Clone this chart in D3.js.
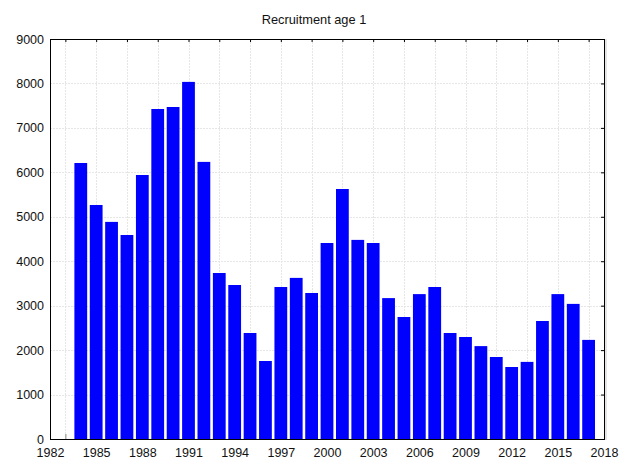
<!DOCTYPE html>
<html>
<head>
<meta charset="utf-8">
<script src="https://cdn.jsdelivr.net/npm/d3@7"></script>
<style>
	body{margin:0;background:#fff;}
	text{font-family:"Liberation Sans",Arial,sans-serif;}
</style>
</head>
<body>
<div id="chart"></div>
<script>
// data
var years = [1984,1985,1986,1987,1988,1989,1990,1991,1992,1993,1994,1995,1996,1997,1998,1999,2000,
	2001,2002,2003,2004,2005,2006,2007,2008,2009,2010,2011,2012,2013,2014,2015,2016,2017];
var recruits = [6210,5265,4885,4590,5940,7425,7470,8035,6235,3735,3465,2385,1755,3420,3625,3285,4410,
	5625,4480,4410,3170,2745,3260,3420,2385,2295,2090,1845,1620,1735,2655,3260,3040,2230];
var xTickLabels = [1982,1985,1988,1991,1994,1997,2000,2003,2006,2009,2012,2015,2018];
var xGridYears = d3.range(1983,2018,2);
var yTicks = d3.range(0,9001,1000);
var title = "Recruitment age 1";

var W = 621, H = 459;
var m = {left:50, right:17, top:39, bottom:20};

var svg = d3.select("#chart").append("svg")
	.attr("width",W).attr("height",H);

var x = d3.scaleLinear().domain([1982,2018]).range([m.left, W-m.right]);
var y = d3.scaleLinear().domain([0,9000]).range([H-m.bottom, m.top]);

// 格線
svg.append("g").selectAll("line").data(yTicks.slice(1,-1)).join("line")
	.attr("x1",m.left).attr("x2",W-m.right)
	.attr("y1",d=>Math.round(y(d))+0.5).attr("y2",d=>Math.round(y(d))+0.5)
	.attr("stroke","#e6e6e6").attr("stroke-dasharray","2,1");
svg.append("g").selectAll("line").data(xGridYears).join("line")
	.attr("y1",m.top).attr("y2",H-m.bottom)
	.attr("x1",d=>Math.round(x(d))+0.5).attr("x2",d=>Math.round(x(d))+0.5)
	.attr("stroke","#e6e6e6").attr("stroke-dasharray","2,1");

// 下方刻度 (被長條蓋住)
svg.append("g").attr("transform","translate(0,"+(H-m.bottom)+")")
	.call(d3.axisBottom(x).tickValues(xGridYears).tickSize(-5).tickFormat(""))
	.call(g=>g.selectAll(".tick line").attr("stroke","#888"))
	.call(g=>g.select(".domain").remove());

// 長條
var bw = (x(1983)-x(1982))*0.83;
svg.append("g").selectAll("rect").data(years).join("rect")
	.attr("x",(d)=>x(d)-bw/2)
	.attr("width",bw)
	.attr("y",(d,i)=>y(recruits[i]))
	.attr("height",(d,i)=>y(0)-y(recruits[i]))
	.attr("fill","#0000ff");

// 座標軸
var yAxis = d3.axisLeft(y).tickValues(yTicks).tickSize(0).tickPadding(6).tickFormat(d3.format("d"));
svg.append("g").attr("transform","translate("+m.left+",0)").call(yAxis)
	.call(g=>g.selectAll("text").attr("font-size","12.5px").attr("fill","#111"));
svg.append("g").attr("transform","translate("+(W-m.right)+",0)")
	.call(d3.axisRight(y).tickValues(yTicks).tickSize(-3).tickFormat(""))
	.call(g=>g.selectAll(".tick line").attr("stroke","#000"));

var xAxis = d3.axisBottom(x).tickValues(xTickLabels).tickSize(0).tickPadding(9).tickFormat(d3.format("d"));
svg.append("g").attr("transform","translate(0,"+(H-m.bottom)+")").call(xAxis)
	.call(g=>g.selectAll("text").attr("font-size","12.5px").attr("fill","#111"));
svg.append("g").attr("transform","translate(0,"+m.top+")")
	.call(d3.axisTop(x).tickValues(xGridYears).tickSize(-3).tickFormat(""))
	.call(g=>g.selectAll(".tick line").attr("stroke","#000"));

svg.selectAll(".domain").attr("stroke","#000");

// 外框
svg.append("line").attr("x1",W-m.right+2).attr("x2",W-m.right+2)
	.attr("y1",m.top).attr("y2",H-m.bottom+1).attr("stroke","#ccc");
svg.append("rect").attr("x",m.left+0.5).attr("y",m.top+0.5)
	.attr("width",W-m.right-m.left).attr("height",H-m.bottom-m.top)
	.attr("fill","none").attr("stroke","#000");

// 標題
svg.append("text").attr("x",314).attr("y",24)
	.attr("text-anchor","middle").attr("font-size","12.8px").attr("fill","#111")
	.text(title);
</script>
</body>
</html>
